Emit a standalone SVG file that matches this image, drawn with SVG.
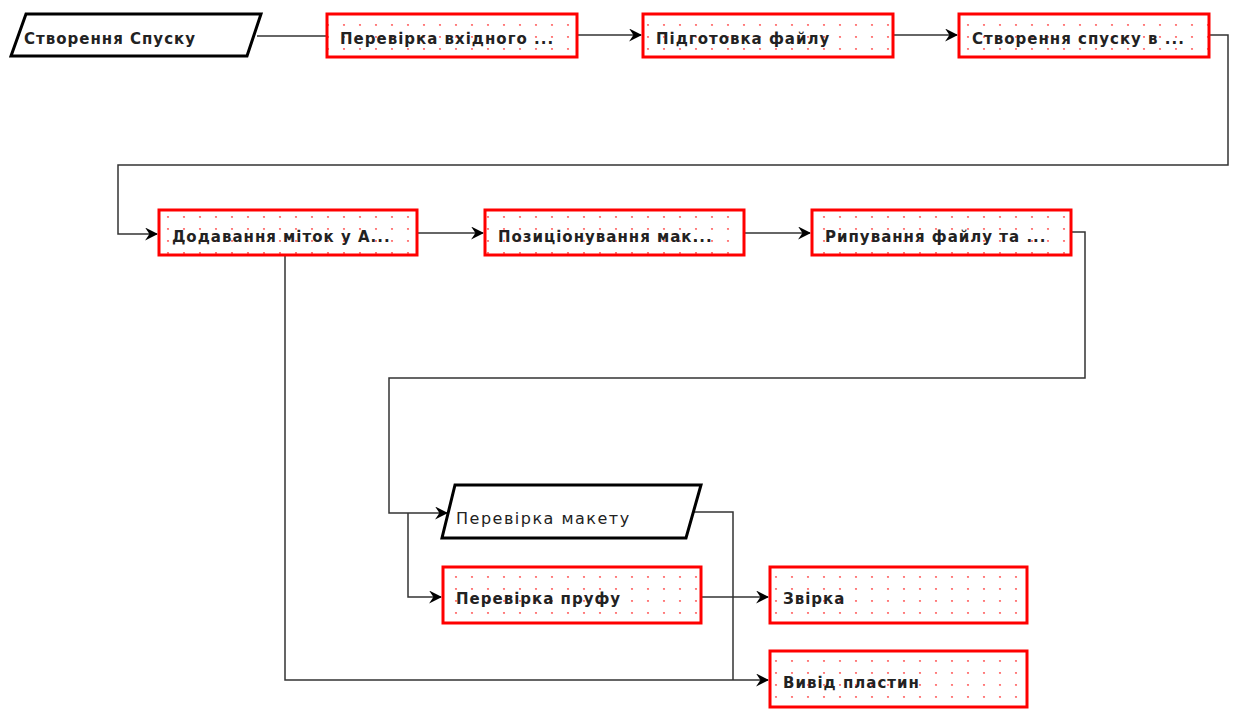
<svg xmlns="http://www.w3.org/2000/svg" width="1233" height="709" viewBox="0 0 1233 709">
<style>
.box{fill:url(#dots);stroke:#ff0000;stroke-width:3}
.para{fill:#fff;stroke:#000;stroke-width:3;stroke-linejoin:miter}
.t{font-family:"DejaVu Sans",Verdana,sans-serif;font-size:15px;font-weight:bold;fill:#222;letter-spacing:1px}
.tn{font-family:"DejaVu Sans",Verdana,sans-serif;font-size:16px;fill:#222;letter-spacing:1.5px}
.c{fill:none;stroke:#333;stroke-width:1.5}
</style>
<defs>
<pattern id="dots" x="0" y="0" width="16" height="12" patternUnits="userSpaceOnUse">
<rect width="16" height="12" fill="#fff"/>
<circle cx="8" cy="1" r="1.1" fill="#ff7070"/>
</pattern>
<marker id="arr" viewBox="0 0 12 12" refX="11" refY="6" markerWidth="13" markerHeight="13" markerUnits="userSpaceOnUse" orient="auto">
<path d="M0,0 L12,6 L0,12 L4,6 z" fill="#000"/>
</marker>
</defs>
<g id="connectors">
<path class="c" d="M257,36 H327"/>
<path class="c" d="M577,35 H641" marker-end="url(#arr)"/>
<path class="c" d="M893,35 H957" marker-end="url(#arr)"/>
<path class="c" d="M1209,35 H1228 V165 H118 V234 H157" marker-end="url(#arr)"/>
<path class="c" d="M417,233 H483" marker-end="url(#arr)"/>
<path class="c" d="M744,233 H810" marker-end="url(#arr)"/>
<path class="c" d="M1071,232 H1085 V378 H389 V513 H447" marker-end="url(#arr)"/>
<path class="c" d="M408,513 V597 H441" marker-end="url(#arr)"/>
<path class="c" d="M285,255 V680 H768" marker-end="url(#arr)"/>
<path class="c" d="M693,512 H733 V680"/>
<path class="c" d="M701,597 H768" marker-end="url(#arr)"/>
</g>
<g id="n1"><polygon class="para" points="26,14 261,14 247,56 11,56"/><text class="t" x="24" y="44">Створення Спуску</text></g>
<g id="n2"><rect class="box" x="327" y="14" width="250" height="43"/><text class="t" x="340" y="44">Перевірка вхідного ...</text></g>
<g id="n3"><rect class="box" x="643" y="14" width="250" height="43"/><text class="t" x="656" y="44">Підготовка файлу</text></g>
<g id="n4"><rect class="box" x="959" y="14" width="250" height="43"/><text class="t" x="972" y="44">Створення спуску в ...</text></g>
<g id="n5"><rect class="box" x="159" y="210" width="258" height="45"/><text class="t" x="172" y="242">Додавання міток у А...</text></g>
<g id="n6"><rect class="box" x="485" y="210" width="259" height="45"/><text class="t" x="498" y="242">Позиціонування мак...</text></g>
<g id="n7"><rect class="box" x="812" y="210" width="259" height="45"/><text class="t" x="825" y="242">Рипування файлу та ...</text></g>
<g id="n8"><polygon class="para" points="455,485 701,485 686,538 442,538"/><text class="tn" x="456" y="524">Перевірка макету</text></g>
<g id="n9"><rect class="box" x="443" y="567" width="258" height="56"/><text class="t" x="456" y="604">Перевірка пруфу</text></g>
<g id="n10"><rect class="box" x="770" y="567" width="257" height="56"/><text class="t" x="783" y="604">Звірка</text></g>
<g id="n11"><rect class="box" x="770" y="651" width="257" height="56"/><text class="t" x="783" y="688">Вивід пластин</text></g>
</svg>
